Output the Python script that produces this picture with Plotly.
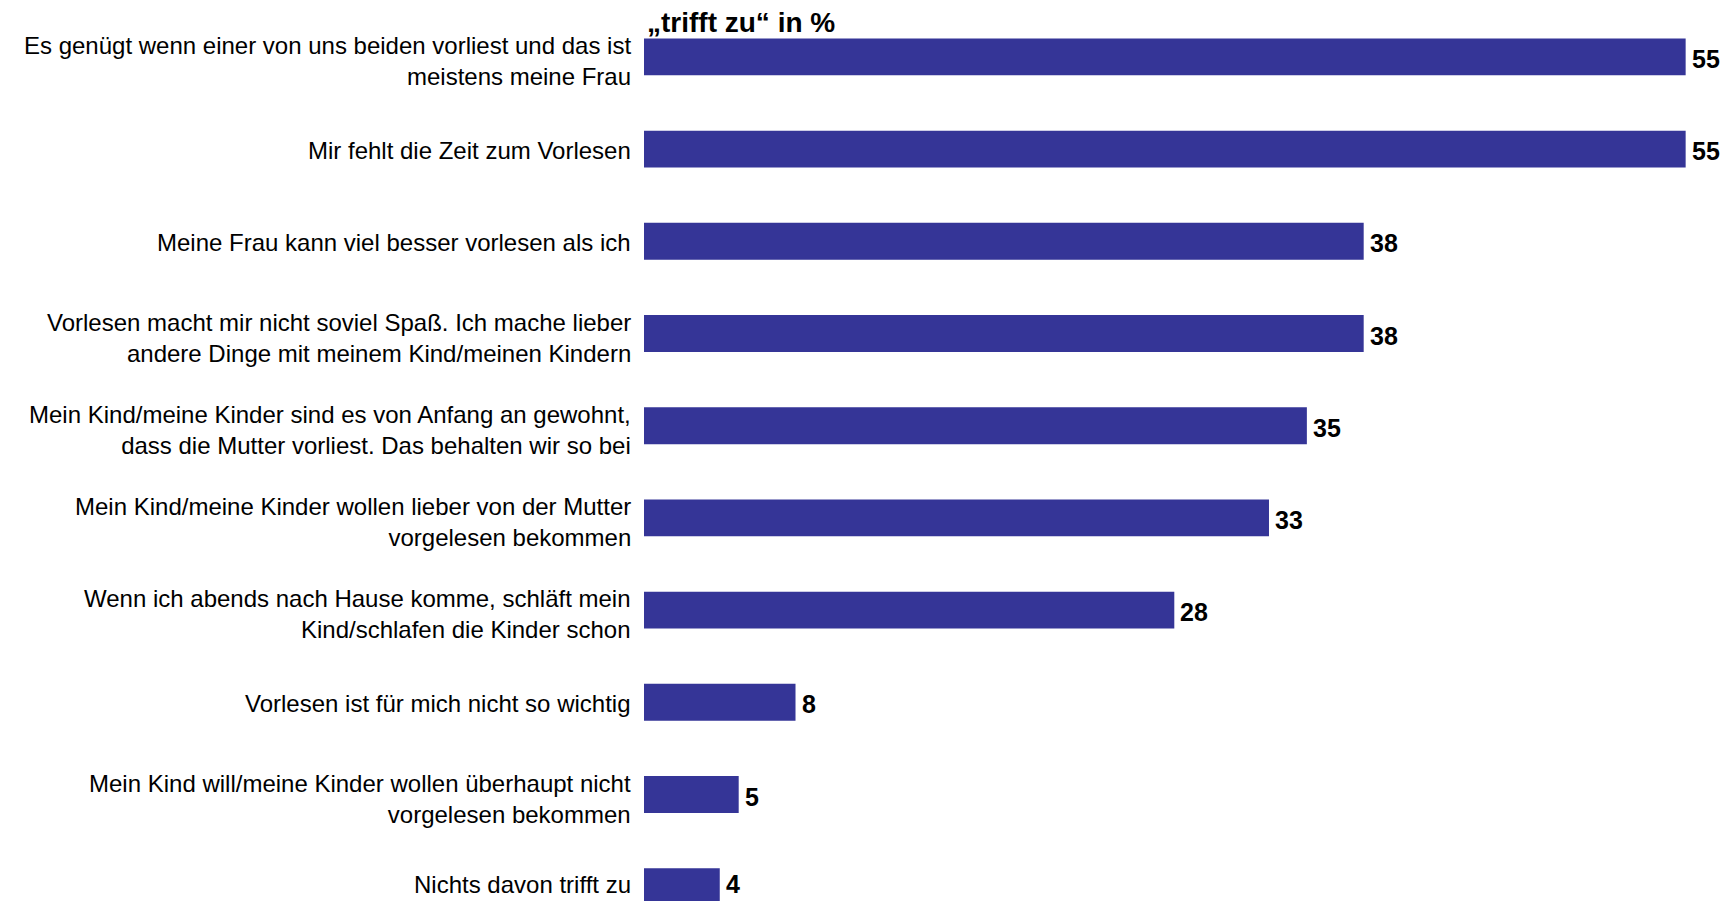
import plotly.graph_objects as go

categories = [
    "Es genügt wenn einer von uns beiden vorliest und das ist<br>meistens meine Frau",
    "Mir fehlt die Zeit zum Vorlesen",
    "Meine Frau kann viel besser vorlesen als ich",
    "Vorlesen macht mir nicht soviel Spaß. Ich mache lieber<br>andere Dinge mit meinem Kind/meinen Kindern",
    "Mein Kind/meine Kinder sind es von Anfang an gewohnt,<br>dass die Mutter vorliest. Das behalten wir so bei",
    "Mein Kind/meine Kinder wollen lieber von der Mutter<br>vorgelesen bekommen",
    "Wenn ich abends nach Hause komme, schläft mein<br>Kind/schlafen die Kinder schon",
    "Vorlesen ist für mich nicht so wichtig",
    "Mein Kind will/meine Kinder wollen überhaupt nicht<br>vorgelesen bekommen",
    "Nichts davon trifft zu",
]
values = [55, 55, 38, 38, 35, 33, 28, 8, 5, 4]

FONT = "Liberation Sans, Arial, sans-serif"
BAR_COLOR = "#353597"

fig = go.Figure(
    go.Bar(
        x=values,
        y=categories,
        orientation="h",
        marker=dict(color=BAR_COLOR, line=dict(width=0)),
        cliponaxis=False,
        width=0.4,
        hoverinfo="x+y",
    )
)

LAST = len(categories) - 1


def label_yshift(i, cat):
    # two-line labels sit a little lower; keep the last row inside the canvas
    if i == LAST:
        return 2
    return -4 if "<br>" in cat else -1


# category labels, right-aligned left of the bars
label_annotations = [
    dict(
        text=cat,
        xref="paper", yref="y",
        x=0, y=cat,
        xanchor="right", yanchor="middle",
        xshift=-11, yshift=label_yshift(i, cat),
        align="right",
        showarrow=False,
        font=dict(family=FONT, size=24, color="black"),
    )
    for i, cat in enumerate(categories)
]

# value labels at the end of each bar
value_annotations = [
    dict(
        text=f"<b>{v}</b>",
        xref="x", yref="y",
        x=v, y=cat,
        xanchor="left", yanchor="middle",
        xshift=4, yshift=3 if i == LAST else -2,
        showarrow=False,
        font=dict(family=FONT, size=25, color="black"),
    )
    for i, (cat, v) in enumerate(zip(categories, values))
]

fig.update_layout(
    width=1733,
    height=901,
    margin=dict(l=644, r=0, t=0, b=0),
    paper_bgcolor="white",
    plot_bgcolor="white",
    showlegend=False,
    font=dict(family=FONT, size=24, color="black"),
    xaxis=dict(range=[0, 57.5], visible=False, showgrid=False, zeroline=False),
    yaxis=dict(
        range=[9.155, -0.617],
        showgrid=False,
        zeroline=False,
        showline=False,
        ticks="",
        showticklabels=False,
    ),
    annotations=label_annotations + value_annotations + [
        dict(
            text="<b>„trifft zu“ in %</b>",
            xref="paper", yref="paper",
            x=0.0, y=1.0, xanchor="left", yanchor="top",
            xshift=1, yshift=-5,
            showarrow=False,
            font=dict(family=FONT, size=28, color="black"),
        )
    ],
)

fig.write_html("out.html")
